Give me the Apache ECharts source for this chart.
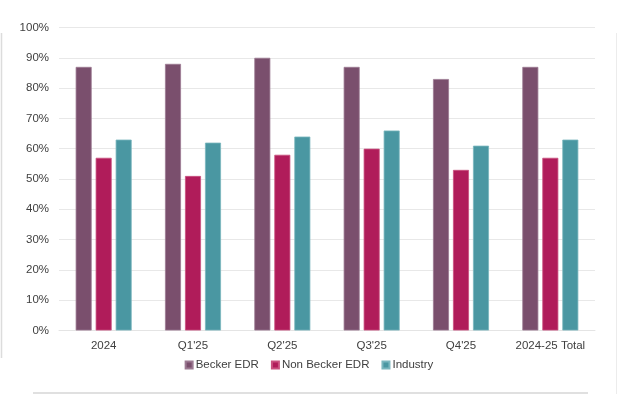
<!DOCTYPE html>
<html><head><meta charset="utf-8">
<script src="https://cdn.jsdelivr.net/npm/echarts@6/dist/echarts.min.js"></script>
<style>html,body{margin:0;padding:0;background:#fff}#c{width:618px;height:394px}</style>
</head><body><div id="c"></div>
<script>
const categories = ["2024", "Q1'25", "Q2'25", "Q3'25", "Q4'25", "2024-25 Total"];
const beckerEDR = [87, 88, 90, 87, 83, 87];
const nonBeckerEDR = [57, 51, 58, 60, 53, 57];
const industry = [63, 62, 64, 66, 61, 63];
const seriesNames = ["Becker EDR", "Non Becker EDR", "Industry"];
const colors = ["#7A4F6D", "#B01C5A", "#4A97A2"];
const borders = ["#9c7a92", "#c9507f", "#7ab6be"];

const chart = echarts.init(document.getElementById('c'), null, {renderer: 'canvas'});
const font = "'Liberation Sans', Arial, sans-serif";
const mk = (name, data, i) => ({
  name, type: 'bar', data, barWidth: 16, barGap: '25%',
  itemStyle: {color: colors[i], borderColor: borders[i], borderWidth: 0.8},
  emphasis: {disabled: true}, animation: false
});
chart.setOption({
  animation: false,
  color: colors,
  grid: {left: 59, right: 23, top: 27.5, bottom: 63.5, containLabel: false},
  xAxis: {
    type: 'category', data: categories,
    axisLine: {show: true, lineStyle: {color: '#e4e4e4'}},
    axisTick: {show: false},
    axisLabel: {color: '#404040', fontFamily: font, fontSize: 11.5, margin: 9, interval: 0}
  },
  yAxis: {
    type: 'value', min: 0, max: 100, interval: 10,
    axisLine: {show: false}, axisTick: {show: false},
    axisLabel: {color: '#404040', fontFamily: font, fontSize: 11.5, margin: 10, formatter: '{value}%'},
    splitLine: {lineStyle: {color: '#e8e8e8', width: 1}}
  },
  legend: {
    data: seriesNames, left: 'center', top: 354, itemWidth: 7, itemHeight: 7, itemGap: 12,
    icon: 'rect',
    textStyle: {color: '#404040', fontFamily: font, fontSize: 11.5, padding: [0, 0, 0, -2]}
  },
  graphic: [
    {type: 'line', shape: {x1: 1.5, y1: 33, x2: 1.5, y2: 358}, style: {stroke: '#dcdcdc', lineWidth: 1.5}},
    {type: 'line', shape: {x1: 33, y1: 393, x2: 588, y2: 393}, style: {stroke: '#d6d6d6', lineWidth: 1.5}},
    {type: 'line', shape: {x1: 616.5, y1: 33, x2: 616.5, y2: 394}, style: {stroke: '#ececec', lineWidth: 1}}
  ],
  series: [mk(seriesNames[0], beckerEDR, 0), mk(seriesNames[1], nonBeckerEDR, 1), mk(seriesNames[2], industry, 2)]
});
</script></body></html>
